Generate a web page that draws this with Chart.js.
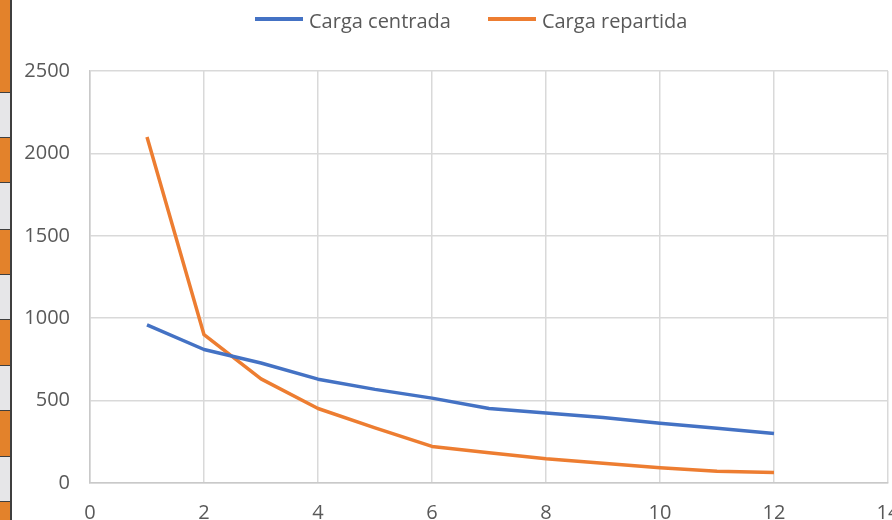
<!DOCTYPE html>
<html>
<head>
<meta charset="utf-8">
<script src="https://cdn.jsdelivr.net/npm/chart.js@4.4.0/dist/chart.umd.min.js"></script>
<style>
  html, body { margin:0; padding:0; background:#fff; width:892px; height:520px; overflow:hidden; }
  #wrap { position:absolute; left:0; top:0; width:940px; height:560px; }
  #strip { position:absolute; left:0; top:0; width:12px; height:520px; z-index:2; }
  .cell { position:absolute; left:0; width:10px; border-right:2px solid #3f3f3f; border-bottom:1px solid #3f3f3f; box-sizing:content-box; }
  #legend { position:absolute; top:7px; left:255px; display:flex; align-items:center; font-family:'Open Sans', sans-serif; font-size:20px; color:#595959; line-height:27px; white-space:nowrap; z-index:3; }
  .item { display:flex; align-items:center; }
  .swatch { width:48px; height:3.5px; margin-right:6px; margin-top:-3px; }
</style>
</head>
<body>
<div id="strip"></div>
<div id="wrap"><canvas id="c" width="940" height="560"></canvas></div>
<div id="legend"></div>
<script>
// ---- data ----
const xValues = [1, 2, 3, 4, 5, 6, 7, 8, 9, 10, 11, 12];
const cargaCentrada = [960, 810, 728, 630, 568, 515, 452, 425, 398, 363, 332, 300];
const cargaRepartida = [2100, 900, 632, 452, 334, 222, 183, 147, 120, 93, 71, 63];
const seriesLabels = ['Carga centrada', 'Carga repartida'];
const seriesColors = ['#4472c4', '#ed7d31'];
const xTickRange = { min: 0, max: 14, step: 2 };
const yTickRange = { min: 0, max: 2500, step: 500 };

// ---- spreadsheet cell strip at left edge (decoration) ----
const cellEdges = [0, 93, 138, 183, 230, 275, 320, 366, 411, 457, 502, 560];
const strip = document.getElementById('strip');
for (let i = 0; i < cellEdges.length - 1; i++) {
  const d = document.createElement('div');
  d.className = 'cell';
  d.style.top = cellEdges[i] + 'px';
  d.style.height = (cellEdges[i + 1] - cellEdges[i] - 1) + 'px';
  d.style.background = (i % 2 === 0) ? '#e3822b' : '#e6e6e8';
  strip.appendChild(d);
}

const toPoints = (ys) => xValues.map((x, i) => ({ x: x, y: ys[i] }));
const allSeries = [cargaCentrada, cargaRepartida];

// ---- HTML legend ----
const legend = document.getElementById('legend');
seriesLabels.forEach((lab, i) => {
  const it = document.createElement('div');
  it.className = 'item';
  if (i > 0) it.style.marginLeft = '37px';
  const sw = document.createElement('span');
  sw.className = 'swatch';
  sw.style.background = seriesColors[i];
  const tx = document.createElement('span');
  tx.textContent = lab;
  it.appendChild(sw); it.appendChild(tx);
  legend.appendChild(it);
});

Chart.defaults.font.family = "'Open Sans', sans-serif";
Chart.defaults.font.size = 20;
Chart.defaults.color = '#595959';

const plain = (v) => String(v);

new Chart(document.getElementById('c'), {
  type: 'scatter',
  data: {
    datasets: allSeries.map((ys, i) => ({
      label: seriesLabels[i],
      data: toPoints(ys),
      showLine: true,
      borderColor: seriesColors[i],
      backgroundColor: seriesColors[i],
      borderWidth: 3.5,
      pointRadius: 0,
      tension: 0,
      borderCapStyle: 'butt',
      borderJoinStyle: 'round'
    }))
  },
  options: {
    responsive: false,
    animation: false,
    layout: { padding: { top: 71, right: 52, left: 0, bottom: 0 } },
    plugins: { legend: { display: false }, tooltip: { enabled: false } },
    scales: {
      x: {
        type: 'linear',
        min: xTickRange.min, max: xTickRange.max,
        ticks: { stepSize: xTickRange.step, padding: 18, maxRotation: 0, callback: plain },
        grid: { color: '#d9d9d9', lineWidth: 1.5, drawTicks: false },
        border: { color: '#c9c9c9', width: 1.5 },
        afterFit: (s) => { s.height = 77; }
      },
      y: {
        min: yTickRange.min, max: yTickRange.max,
        ticks: { stepSize: yTickRange.step, padding: 20, callback: plain },
        grid: { color: '#d9d9d9', lineWidth: 1.5, drawTicks: false },
        border: { color: '#c9c9c9', width: 1.5 },
        afterFit: (s) => { s.width = 90; }
      }
    }
  }
});
</script>
</body>
</html>
